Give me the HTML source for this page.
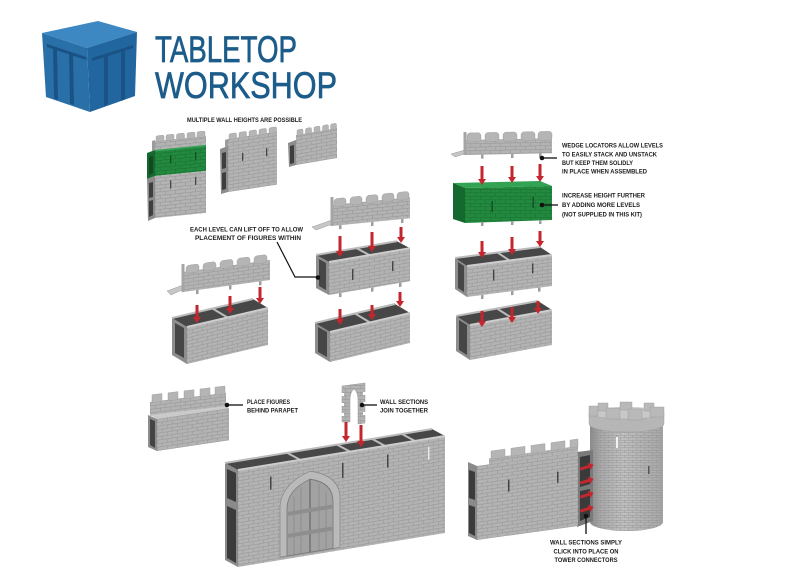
<!DOCTYPE html>
<html><head><meta charset="utf-8"><style>
html,body{margin:0;padding:0;background:#fff;}
svg{display:block;}
text{font-family:"Liberation Sans",Arial,sans-serif;}
.t{font-size:6.5px;font-weight:bold;fill:#1b1b1b;}
</style></head><body>
<svg width="800" height="577" viewBox="0 0 800 577" xmlns="http://www.w3.org/2000/svg">
<defs>
<pattern id="bk" width="10" height="7" patternUnits="userSpaceOnUse">
<rect width="10" height="7" fill="#b3b3b3"/>
<path d="M0,0.3H10M0,3.8H10M0.3,0V3.5M5.3,3.5V7" stroke="#999" stroke-width="0.6" fill="none"/>
</pattern>
<pattern id="bkg" width="10" height="7" patternUnits="userSpaceOnUse">
<rect width="10" height="7" fill="#22893f"/>
<path d="M0,0.3H10M0,3.8H10M0.3,0V3.5M5.3,3.5V7" stroke="#1a7334" stroke-width="0.6" fill="none"/>
</pattern>
<pattern id="bkt" width="8" height="5" patternUnits="userSpaceOnUse">
<path d="M0,0.3H8M0,2.8H8M0.3,0V2.5M4.3,2.5V5" stroke="#8e8e8e" stroke-width="0.5" fill="none" opacity="0.8"/>
</pattern>
<linearGradient id="tw" x1="0" x2="1" y1="0" y2="0">
<stop offset="0" stop-color="#8a8a8a"/>
<stop offset="0.15" stop-color="#a9a9a9"/>
<stop offset="0.45" stop-color="#c0c0c0"/>
<stop offset="1" stop-color="#a6a6a6"/>
</linearGradient>
</defs>
<rect width="800" height="577" fill="#fff"/>

<!-- LOGO -->
<polygon points="42,33 98,21 137,32 87,48" fill="#3d88c3"/>
<polygon points="42,33 87,48 90,112 46,97" fill="#2a70a8"/>
<polygon points="87,48 137,32 135,96 90,112" fill="#2266a0"/>
<g fill="#1a5285">
<polygon points="47,44 86,57 86,60 47,47"/>
<polygon points="53,47 57,48.5 58,100 54,98.5"/>
<polygon points="69,52 73,53.5 74,105 70,103.5"/>
<polygon points="92,58 133,45 133,48 92,61"/>
<polygon points="104,56 108,55 108,104 104,106"/>
<polygon points="121,50 125,49 125,99 121,101"/>
</g>
<text x="155" y="62" font-size="37" fill="#1c5c8a" stroke="#1c5c8a" stroke-width="0.7" textLength="142" lengthAdjust="spacingAndGlyphs">TABLETOP</text>
<text x="155" y="98" font-size="37" fill="#1c5c8a" stroke="#1c5c8a" stroke-width="0.7" textLength="182" lengthAdjust="spacingAndGlyphs">WORKSHOP</text>

<text class="t" x="187" y="122" textLength="115" lengthAdjust="spacingAndGlyphs">MULTIPLE WALL HEIGHTS ARE POSSIBLE</text>

<!-- WALL A -->
<polygon points="147,153 155,150 155,176 147,179" fill="#17682f"/>
<polygon points="149,157 153,156 153,173 149,175" fill="#0f4a21"/>
<polygon points="147,179 155,176 155,218 148,221" fill="#8c8c8c"/>
<polygon points="149,183 153,182 153,197 149,198" fill="#3e3e3e"/>
<polygon points="149,201 153,200 153,215 149,217" fill="#3e3e3e"/>
<polygon points="152,141 155,140 155,150 152,151" fill="#9c9c9c"/>
<g transform="translate(155,150) matrix(1,-0.1,0,1,0,0)">
<rect x="0" y="-9" width="51" height="9" fill="url(#bk)"/>
<g fill="#b5b5b5" stroke="#9a9a9a" stroke-width="0.4">
<rect x="1" y="-14" width="8" height="6" rx="1.5"/>
<rect x="11" y="-14" width="8" height="6" rx="1.5"/>
<rect x="21.5" y="-14" width="8" height="6" rx="1.5"/>
<rect x="32" y="-14" width="8" height="6" rx="1.5"/>
<rect x="42" y="-14" width="8" height="6" rx="1.5"/>
</g>
<rect y="0" width="51" height="26" fill="url(#bkg)"/>
<rect y="0" width="51" height="1.5" fill="#3aa35c"/>
<rect y="26" width="51" height="42" fill="url(#bk)"/>
<rect x="15" y="7" width="1.3" height="8" fill="#124d24"/>
<rect x="40" y="6" width="1.3" height="8" fill="#124d24"/>
<rect x="15" y="32" width="1.3" height="8" fill="#444"/>
<rect x="40" y="31" width="1.3" height="8" fill="#444"/>
</g>

<!-- WALL B -->
<polygon points="220,149 228,146 228,192 221,194" fill="#8c8c8c"/>
<polygon points="222,153 226,152 226,168 222,169" fill="#3e3e3e"/>
<polygon points="222,173 226,172 226,189 222,190" fill="#3e3e3e"/>
<polygon points="225,140 228,139 228,146 225,147" fill="#9c9c9c"/>
<g transform="translate(228,146) matrix(1,-0.15,0,1,0,0)">
<rect y="-7" width="49" height="53" fill="url(#bk)"/>
<g fill="#b5b5b5" stroke="#9a9a9a" stroke-width="0.4">
<rect x="1" y="-12" width="7.5" height="6" rx="1.5"/>
<rect x="11" y="-12" width="7.5" height="6" rx="1.5"/>
<rect x="21" y="-12" width="7.5" height="6" rx="1.5"/>
<rect x="31" y="-12" width="7.5" height="6" rx="1.5"/>
<rect x="41" y="-12" width="7.5" height="6" rx="1.5"/>
</g>
<rect x="14" y="9" width="1.3" height="8" fill="#444"/>
<rect x="38" y="8" width="1.3" height="8" fill="#444"/>
</g>

<!-- WALL C -->
<polygon points="288,143 296,140 296,165 289,167" fill="#8c8c8c"/>
<polygon points="290,146 294,145 294,163 290,164" fill="#3e3e3e"/>
<g transform="translate(296,140) matrix(1,-0.17,0,1,0,0)">
<rect y="-5" width="41" height="30" fill="url(#bk)"/>
<g fill="#b5b5b5" stroke="#9a9a9a" stroke-width="0.4">
<rect x="1" y="-10" width="6" height="6" rx="1.5"/>
<rect x="9.5" y="-10" width="6" height="6" rx="1.5"/>
<rect x="18" y="-10" width="6" height="6" rx="1.5"/>
<rect x="26.5" y="-10" width="6" height="6" rx="1.5"/>
<rect x="34.5" y="-10" width="6" height="6" rx="1.5"/>
</g>
</g>

<!-- GROUP 4 (bottom-left exploded) -->
<polygon points="167,291 183,285 186,288 171,295" fill="#c6c6c6" stroke="#9a9a9a" stroke-width="0.5"/>
<g transform="translate(183,272) matrix(1,-0.138,0,1,0,0)">
<rect width="87" height="20" fill="url(#bk)"/>
<g fill="#b5b5b5" stroke="#999" stroke-width="0.4">
<rect x="3" y="-6" width="13" height="8" rx="3"/>
<rect x="20" y="-6" width="13" height="8" rx="3"/>
<rect x="37" y="-6" width="13" height="8" rx="3"/>
<rect x="54" y="-6" width="13" height="8" rx="3"/>
<rect x="71" y="-6" width="13" height="8" rx="3"/>
</g>
<rect x="-1.5" y="-8" width="3" height="28" fill="#a5a5a5"/>
<g fill="#9d9d9d"><rect x="13" y="20" width="2.5" height="4"/><rect x="46" y="20" width="2.5" height="4"/><rect x="76" y="20" width="2.5" height="4"/></g>
</g>
<polygon points="172,318 187,327 187,364 172,355" fill="#8d8d8d"/>
<polygon points="175,323 184,328 184,358 175,353" fill="#464646"/>
<polygon points="187,327 268,308 253,299 172,318" fill="#474747"/>
<line x1="172" y1="318" x2="253" y2="299" stroke="#bcbcbc" stroke-width="2"/>
<line x1="227.5" y1="317.5" x2="212.5" y2="308.5" stroke="#bcbcbc" stroke-width="2"/>
<g transform="translate(187,327) matrix(1,-0.235,0,1,0,0)">
<rect width="81" height="37" fill="url(#bk)"/>
</g>
<line x1="187" y1="327" x2="268" y2="308" stroke="#cdcdcd" stroke-width="2"/>

<!-- GROUP 5 (middle) -->
<polygon points="312,227 332,220 335,223 316,230" fill="#c6c6c6" stroke="#9a9a9a" stroke-width="0.5"/>
<g transform="translate(332,205) matrix(1,-0.1,0,1,0,0)">
<rect width="78" height="21" fill="url(#bk)"/>
<g fill="#b5b5b5" stroke="#999" stroke-width="0.4">
<rect x="2" y="-6" width="12" height="8" rx="3"/>
<rect x="18" y="-6" width="12" height="8" rx="3"/>
<rect x="34" y="-6" width="12" height="8" rx="3"/>
<rect x="50" y="-6" width="12" height="8" rx="3"/>
<rect x="65" y="-6" width="12" height="8" rx="3"/>
</g>
<rect x="-1.5" y="-8" width="3" height="29" fill="#a5a5a5"/>
<g fill="#9d9d9d"><rect x="7" y="21" width="2.5" height="4"/><rect x="39" y="21" width="2.5" height="4"/><rect x="69" y="21" width="2.5" height="4"/></g>
</g>
<polygon points="316,255 329,262 329,295 316,288" fill="#8d8d8d"/>
<polygon points="319,259 326,263 326,290 319,286" fill="#464646"/>
<polygon points="329,262 410,248.2 397,241.2 316,255" fill="#474747"/>
<line x1="316" y1="255" x2="397" y2="241.2" stroke="#bcbcbc" stroke-width="2"/>
<line x1="369.5" y1="255.1" x2="356.5" y2="248.1" stroke="#bcbcbc" stroke-width="2"/>
<g transform="translate(329,262) matrix(1,-0.17,0,1,0,0)">
<rect width="81" height="33" fill="url(#bk)"/>
<rect x="23" y="11" width="1.4" height="11" fill="#444"/>
<rect x="63" y="10" width="1.4" height="10" fill="#444"/>
<g fill="#9d9d9d"><rect x="10" y="33" width="2.5" height="4"/><rect x="42" y="33" width="2.5" height="4"/><rect x="70" y="33" width="2.5" height="4"/></g>
</g>
<line x1="329" y1="262" x2="410" y2="248.2" stroke="#cdcdcd" stroke-width="2"/>

<polygon points="315,323 330,332 330,362 315,353" fill="#8d8d8d"/>
<polygon points="318,327 327,332 327,357 318,352" fill="#464646"/>
<polygon points="330,332 410,313 395,304 315,323" fill="#474747"/>
<line x1="315" y1="323" x2="395" y2="304" stroke="#bcbcbc" stroke-width="2"/>
<line x1="370" y1="322.5" x2="355" y2="313.5" stroke="#bcbcbc" stroke-width="2"/>
<g transform="translate(330,332) matrix(1,-0.2375,0,1,0,0)">
<rect width="80" height="30" fill="url(#bk)"/>
</g>
<line x1="330" y1="332" x2="410" y2="313" stroke="#cdcdcd" stroke-width="2"/>

<!-- GROUP 6 (right column) -->
<polygon points="451,154 465,150 467,153 455,157" fill="#c6c6c6" stroke="#9a9a9a" stroke-width="0.5"/>
<g transform="translate(465,140) matrix(1,-0.02,0,1,0,0)">
<rect width="87" height="15" fill="url(#bk)"/>
<g fill="#b5b5b5" stroke="#999" stroke-width="0.4">
<rect x="2" y="-7" width="14" height="9" rx="3"/>
<rect x="20" y="-7" width="14" height="9" rx="3"/>
<rect x="38" y="-7" width="14" height="9" rx="3"/>
<rect x="56" y="-7" width="14" height="9" rx="3"/>
<rect x="73" y="-7" width="14" height="9" rx="3"/>
</g>
<rect x="-1.5" y="-8" width="3" height="23" fill="#a5a5a5"/>
<g fill="#9d9d9d"><rect x="16" y="15" width="2.5" height="4"/><rect x="46" y="15" width="2.5" height="4"/><rect x="74" y="15" width="2.5" height="4"/></g>
</g>

<polygon points="453,183 540,181 552,186 465,188" fill="#31a353"/>
<polygon points="453,183 465,188 465,223 453,219" fill="#16692e"/>
<polygon points="465,188 552,186 552,220 465,223" fill="url(#bkg)"/>
<rect x="491.5" y="201" width="1.4" height="11" fill="#124d24"/>
<rect x="532.5" y="197" width="1.4" height="11" fill="#124d24"/>
<g fill="#9d9d9d"><rect x="481" y="222" width="2.5" height="4"/><rect x="511" y="221" width="2.5" height="4"/><rect x="539" y="220" width="2.5" height="4"/></g>

<polygon points="455,258 467,266 467,297 455,289" fill="#8d8d8d"/>
<polygon points="458,262 464,266 464,292 458,288" fill="#464646"/>
<polygon points="467,266 552,255 540,247 455,258" fill="#474747"/>
<line x1="455" y1="258" x2="540" y2="247" stroke="#bcbcbc" stroke-width="2"/>
<line x1="509.5" y1="260.5" x2="497.5" y2="252.5" stroke="#bcbcbc" stroke-width="2"/>
<g transform="translate(467,266) matrix(1,-0.13,0,1,0,0)">
<rect width="85" height="31" fill="url(#bk)"/>
<rect x="26" y="7" width="1.4" height="11" fill="#444"/>
<rect x="65" y="6" width="1.4" height="10" fill="#444"/>
<g fill="#9d9d9d"><rect x="14" y="31" width="2.5" height="4"/><rect x="44" y="31" width="2.5" height="4"/><rect x="71" y="31" width="2.5" height="4"/></g>
</g>
<line x1="467" y1="266" x2="552" y2="255" stroke="#cdcdcd" stroke-width="2"/>

<polygon points="456,316 470,325 470,360 456,351" fill="#8d8d8d"/>
<polygon points="459,320 467,325 467,355 459,350" fill="#464646"/>
<polygon points="470,325 552,310 538,301 456,316" fill="#474747"/>
<line x1="456" y1="316" x2="538" y2="301" stroke="#bcbcbc" stroke-width="2"/>
<line x1="511" y1="317.5" x2="497" y2="308.5" stroke="#bcbcbc" stroke-width="2"/>
<g transform="translate(470,325) matrix(1,-0.183,0,1,0,0)">
<rect width="82" height="35" fill="url(#bk)"/>
</g>
<line x1="470" y1="325" x2="552" y2="310" stroke="#cdcdcd" stroke-width="2"/>

<!-- RED ARROWS -->
<g fill="#c4262e">
<polygon points="195.5,305 198.5,305 198.5,317 201,317 197,323 193,317 195.5,317"/>
<polygon points="228.5,296 231.5,296 231.5,308 234,308 230,314 226,308 228.5,308"/>
<polygon points="258.5,287 261.5,287 261.5,298 264,298 260,304 256,298 258.5,298"/>
<polygon points="338.5,236 341.5,236 341.5,251 344,251 340,257 336,251 338.5,251"/>
<polygon points="370.5,232 373.5,232 373.5,246 376,246 372,252 368,246 370.5,246"/>
<polygon points="399.5,227 402.5,227 402.5,237 405,237 401,243 397,237 399.5,237"/>
<polygon points="338.5,309 341.5,309 341.5,319 344,319 340,325 336,319 338.5,319"/>
<polygon points="370.5,305 373.5,305 373.5,314 376,314 372,320 368,314 370.5,314"/>
<polygon points="398.5,292 401.5,292 401.5,301 404,301 400,307 396,301 398.5,301"/>
<polygon points="480.5,166 483.5,166 483.5,179 486,179 482,185 478,179 480.5,179"/>
<polygon points="510.5,166 513.5,166 513.5,177 516,177 512,183 508,177 510.5,177"/>
<polygon points="538.5,164 541.5,164 541.5,176 544,176 540,182 536,176 538.5,176"/>
<polygon points="480.5,241 483.5,241 483.5,252 486,252 482,258 478,252 480.5,252"/>
<polygon points="510.5,237 513.5,237 513.5,249 516,249 512,255 508,249 510.5,249"/>
<polygon points="538.5,231 541.5,231 541.5,241 544,241 540,247 536,241 538.5,241"/>
<polygon points="480.5,311 483.5,311 483.5,321 486,321 482,327 478,321 480.5,321"/>
<polygon points="510.5,307 513.5,307 513.5,317 516,317 512,323 508,317 510.5,317"/>
<polygon points="536.5,301 539.5,301 539.5,308 542,308 538,314 534,308 536.5,308"/>
</g>

<!-- Texts upper -->
<text class="t" x="190" y="231.5" textLength="113" lengthAdjust="spacingAndGlyphs">EACH LEVEL CAN LIFT OFF TO ALLOW</text>
<text class="t" x="195" y="240" textLength="106" lengthAdjust="spacingAndGlyphs">PLACEMENT OF FIGURES WITHIN</text>
<polyline points="277,242 295,277 317,277" fill="none" stroke="#111" stroke-width="1.2"/>
<circle cx="318" cy="277.5" r="2.3" fill="#111"/>

<text class="t" x="562" y="147.5" textLength="101" lengthAdjust="spacingAndGlyphs">WEDGE LOCATORS ALLOW LEVELS</text>
<text class="t" x="562" y="156.5" textLength="95" lengthAdjust="spacingAndGlyphs">TO EASILY STACK AND UNSTACK</text>
<text class="t" x="562" y="165" textLength="71" lengthAdjust="spacingAndGlyphs">BUT KEEP THEM SOLIDLY</text>
<text class="t" x="562" y="173.5" textLength="85" lengthAdjust="spacingAndGlyphs">IN PLACE WHEN ASSEMBLED</text>
<line x1="542" y1="158" x2="557" y2="158" stroke="#111" stroke-width="1.3"/>
<circle cx="542" cy="158" r="2.3" fill="#111"/>
<text class="t" x="562" y="197.5" textLength="83" lengthAdjust="spacingAndGlyphs">INCREASE HEIGHT FURTHER</text>
<text class="t" x="562" y="207" textLength="78" lengthAdjust="spacingAndGlyphs">BY ADDING MORE LEVELS</text>
<text class="t" x="562" y="216.5" textLength="80" lengthAdjust="spacingAndGlyphs">(NOT SUPPLIED IN THIS KIT)</text>
<line x1="542" y1="205" x2="558" y2="205" stroke="#111" stroke-width="1.3"/>
<circle cx="542" cy="205" r="2.3" fill="#111"/>

<!-- SMALL PARAPET WALL -->
<polygon points="148,415 157,419 157,451 148,447" fill="#8d8d8d"/>
<polygon points="150,419 155,421 155,448 150,445" fill="#444"/>
<g transform="translate(150,402) matrix(1,-0.12,0,1,0,0)">
<rect width="76" height="14" fill="url(#bk)"/>
<g fill="#b5b5b5" stroke="#999" stroke-width="0.4">
<rect x="2" y="-7" width="10" height="8"/>
<rect x="18" y="-7" width="10" height="8"/>
<rect x="34" y="-7" width="10" height="8"/>
<rect x="50" y="-7" width="10" height="8"/>
<rect x="65" y="-7" width="10" height="8"/>
</g>
</g>
<polygon points="150,415 226,406 229,409 157,419" fill="#cacaca"/>
<g transform="translate(157,419) matrix(1,-0.15,0,1,0,0)">
<rect width="72" height="32" fill="url(#bk)"/>
</g>
<line x1="227" y1="405" x2="243" y2="405" stroke="#111" stroke-width="1.3"/>
<circle cx="227" cy="405" r="2.3" fill="#111"/>
<text class="t" x="247" y="404" textLength="43" lengthAdjust="spacingAndGlyphs">PLACE FIGURES</text>
<text class="t" x="247" y="412.5" textLength="51" lengthAdjust="spacingAndGlyphs">BEHIND PARAPET</text>

<!-- BIG WALL -->
<polygon points="225,463 238,470 238,567 225,560" fill="#8a8a8a"/>
<polygon points="227,469 236,473 236,502 227,498" fill="#3b3b3b"/>
<polygon points="227,506 236,510 236,563 227,558" fill="#3b3b3b"/>
<polygon points="238,470 445,436 432,429 225,463" fill="#474747"/>
<line x1="225" y1="463" x2="432" y2="429" stroke="#bcbcbc" stroke-width="2"/>
<g stroke="#bcbcbc" stroke-width="2">
<line x1="300" y1="459.8" x2="287" y2="452.8"/>
<line x1="350" y1="451.6" x2="337" y2="444.6"/>
<line x1="385" y1="445.9" x2="372" y2="438.9"/>
<line x1="415" y1="441" x2="402" y2="434"/>
</g>
<g transform="translate(238,470) matrix(1,-0.164,0,1,0,0)">
<rect width="207" height="97" fill="url(#bk)"/>
<path d="M42,94 L42,45 Q42,22 72,13 Q102,22 102,45 L102,94 Z" fill="#bababa" stroke="#8a8a8a" stroke-width="0.8"/>
<path d="M49,94 L49,47 Q49,28 72,21 Q95,28 95,47 L95,94 Z" fill="#a2a2a2" stroke="#767676" stroke-width="0.8"/>
<g stroke="#868686" stroke-width="0.7">
<line x1="56" y1="36" x2="56" y2="94"/>
<line x1="63" y1="27" x2="63" y2="94"/>
<line x1="81" y1="27" x2="81" y2="94"/>
<line x1="88" y1="36" x2="88" y2="94"/>
</g>
<line x1="72" y1="21" x2="72" y2="94" stroke="#666" stroke-width="1.2"/>
<rect x="49" y="50" width="46" height="4" fill="#8e8e8e"/>
<rect x="49" y="72" width="46" height="4" fill="#8e8e8e"/>
<rect x="32" y="12" width="1.5" height="13" fill="#444"/>
<rect x="104" y="10" width="1.5" height="15" fill="#444"/>
<rect x="149" y="9" width="1.5" height="13" fill="#444"/>
<rect x="190" y="8" width="1.5" height="13" fill="#e8e8e8"/>
</g>
<line x1="238" y1="470" x2="445" y2="436" stroke="#cdcdcd" stroke-width="2"/>

<!-- ARCH PIECE -->
<path d="M342,386 L365,383 L365,423 L358,424 L358,400 Q358,392 354,389 Q350,392 350,400 L350,422 L342,422 Z" fill="url(#bk)" stroke="#999" stroke-width="0.5"/>
<g fill="#fff">
<rect x="341.5" y="393" width="2.5" height="3"/>
<rect x="341.5" y="403" width="2.5" height="3"/>
<rect x="341.5" y="413" width="2.5" height="3"/>
<rect x="363" y="392" width="2.5" height="3"/>
<rect x="363" y="402" width="2.5" height="3"/>
<rect x="363" y="412" width="2.5" height="3"/>
</g>
<g fill="#c4262e">
<polygon points="344.5,422 347.5,422 347.5,436 350,436 346,442 342,436 344.5,436"/>
<polygon points="359.5,425 362.5,425 362.5,441 365,441 361,447 357,441 359.5,441"/>
</g>
<line x1="362" y1="405" x2="377" y2="405" stroke="#111" stroke-width="1.3"/>
<circle cx="362" cy="405" r="2.3" fill="#111"/>
<text class="t" x="380" y="404" textLength="48" lengthAdjust="spacingAndGlyphs">WALL SECTIONS</text>
<text class="t" x="380" y="412.5" textLength="48" lengthAdjust="spacingAndGlyphs">JOIN TOGETHER</text>

<!-- TOWER -->
<path d="M590,424 L590,522 A36.5,9 0 0 0 663,522 L663,424 Z" fill="url(#tw)"/>
<path d="M590,424 L590,522 A36.5,9 0 0 0 663,522 L663,424 Z" fill="url(#bkt)"/>
<ellipse cx="626.5" cy="413" rx="37.5" ry="6" fill="#c8c8c8"/>
<path d="M589,413 L589,424 A37.5,8 0 0 0 664,424 L664,413 A37.5,6 0 0 1 589,413 Z" fill="#b6b6b6" stroke="#9a9a9a" stroke-width="0.4"/>
<g fill="#b9b9b9" stroke="#999" stroke-width="0.4">
<rect x="598" y="403" width="10" height="8"/>
<rect x="620" y="402" width="12" height="8"/>
<rect x="644" y="403" width="10" height="8"/>
<rect x="589" y="406" width="9" height="10"/>
<rect x="606" y="408" width="14" height="11"/>
<rect x="628" y="409" width="14" height="11"/>
<rect x="650" y="407" width="14" height="10"/>
</g>
<rect x="616" y="437" width="2" height="11" fill="#f2f2f2"/>
<rect x="648" y="466" width="1.5" height="8" fill="#555"/>

<!-- connector -->
<polygon points="577,452 593,450 593,521 577,527" fill="#7a7a7a"/>
<polygon points="580,457 590,455 590,484 580,487" fill="#3a3a3a"/>
<polygon points="580,491 590,489 590,517 580,521" fill="#3a3a3a"/>

<!-- TOWER WALL -->
<polygon points="468,462 477,466 477,540 468,536" fill="#8a8a8a"/>
<polygon points="469,470 475,472 475,500 469,498" fill="#3b3b3b"/>
<polygon points="469,505 475,507 475,536 469,533" fill="#3b3b3b"/>
<g transform="translate(477,466) matrix(1,-0.139,0,1,0,0)">
<rect width="101" height="74" fill="url(#bk)"/>
<rect x="12" y="-6" width="89" height="6" fill="url(#bk)"/>
<g fill="#b5b5b5" stroke="#999" stroke-width="0.4">
<rect x="14" y="-13" width="14" height="8"/>
<rect x="34" y="-13" width="14" height="8"/>
<rect x="54" y="-13" width="14" height="8"/>
<rect x="74" y="-13" width="14" height="8"/>
<rect x="93" y="-13" width="8" height="8"/>
</g>
<rect x="31" y="18" width="1.5" height="12" fill="#444"/>
<rect x="80" y="17" width="1.5" height="11" fill="#444"/>
</g>

<g fill="#c4262e">
<polygon points="580,465.5 589,465.5 589,463 594,467 589,471 589,468.5 580,468.5" transform="rotate(-18 587 467)"/>
<polygon points="580,479.5 589,479.5 589,477 594,481 589,485 589,482.5 580,482.5" transform="rotate(-18 587 481)"/>
<polygon points="580,493.5 589,493.5 589,491 594,495 589,499 589,496.5 580,496.5" transform="rotate(-18 587 495)"/>
<polygon points="580,507.5 589,507.5 589,505 594,509 589,513 589,510.5 580,510.5" transform="rotate(-18 587 509)"/>
</g>

<line x1="586" y1="516" x2="586" y2="534" stroke="#111" stroke-width="1.3"/>
<circle cx="586" cy="516" r="2.3" fill="#111"/>
<text class="t" x="586" y="544.5" text-anchor="middle" textLength="72" lengthAdjust="spacingAndGlyphs">WALL SECTIONS SIMPLY</text>
<text class="t" x="586" y="553.5" text-anchor="middle" textLength="65" lengthAdjust="spacingAndGlyphs">CLICK INTO PLACE ON</text>
<text class="t" x="586" y="562" text-anchor="middle" textLength="63" lengthAdjust="spacingAndGlyphs">TOWER CONNECTORS</text>
</svg>
</body></html>
